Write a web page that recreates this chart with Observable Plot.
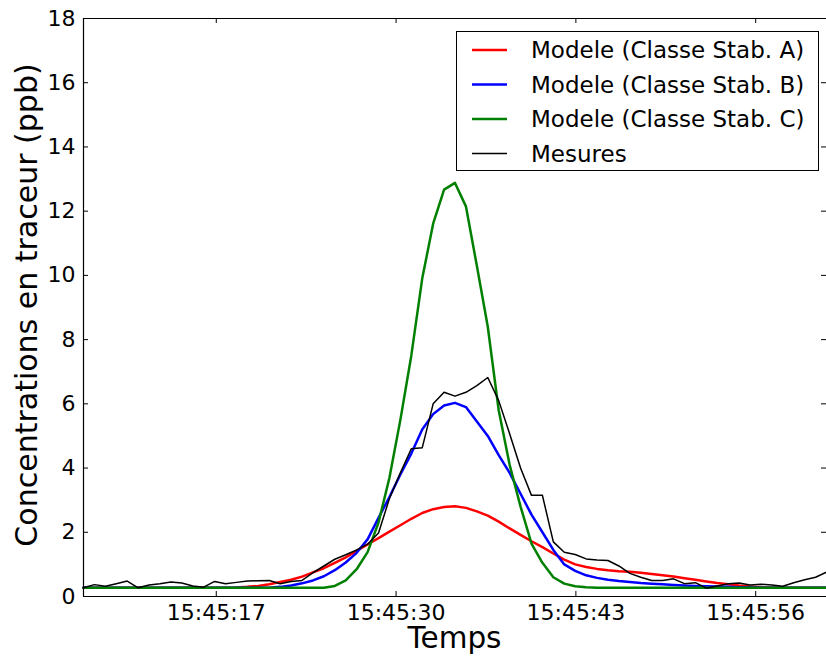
<!DOCTYPE html>
<html><head><meta charset="utf-8">
<script src="https://cdn.jsdelivr.net/npm/d3@7"></script>
<script src="https://cdn.jsdelivr.net/npm/@observablehq/plot@0.6"></script>
<style>body{margin:0;background:#fff}</style>
</head><body><div id="chart"></div>
<script>
// seconds after 15:45:00
const times = [7.40,8.19,8.98,9.77,10.56,11.35,12.14,12.93,13.72,14.51,15.30,16.09,16.88,17.67,18.46,19.25,20.04,20.83,21.62,22.41,23.20,23.99,24.78,25.57,26.36,27.15,27.94,28.73,29.52,30.31,31.10,31.89,32.68,33.47,34.26,35.05,35.84,36.63,37.42,38.21,39.00,39.79,40.58,41.37,42.16,42.95,43.74,44.53,45.32,46.11,46.90,47.69,48.48,49.27,50.06,50.85,51.64,52.43,53.22,54.01,54.80,55.59,56.38,57.17,57.96,58.75,59.54,60.33,61.12];

const modelA = [0.27,0.27,0.27,0.27,0.27,0.27,0.27,0.27,0.27,0.27,0.27,0.27,0.27,0.27,
  0.28,0.30,0.33,0.38,0.45,0.52,0.62,0.75,0.88,1.05,1.22,1.42,1.62,1.82,2.02,2.22,2.42,2.60,2.72,2.79,2.81,2.76,2.65,2.52,2.33,2.12,1.92,1.72,1.54,1.34,1.15,1.00,0.92,0.86,0.82,0.79,0.77,0.74,0.70,0.66,0.62,0.57,0.52,0.47,0.42,0.38,0.34,0.31,0.29,0.28,
  0.27,0.27,0.27,0.27,0.27];

const modelB = [0.27,0.27,0.27,0.27,0.27,0.27,0.27,0.27,0.27,0.27,0.27,0.27,0.27,0.27,0.27,0.27,0.27,0.27,
  0.30,0.34,0.41,0.50,0.63,0.82,1.06,1.36,1.78,2.45,3.10,3.80,4.45,5.20,5.68,5.95,6.03,5.90,5.45,5.00,4.40,3.85,3.20,2.55,2.00,1.45,1.00,0.80,0.66,0.58,0.52,0.48,0.45,0.42,0.40,0.38,0.36,0.34,0.33,0.32,0.31,0.30,0.29,0.28,
  0.27,0.27,0.27,0.27,0.27,0.27,0.27];

const modelC = [0.27,0.27,0.27,0.27,0.27,0.27,0.27,0.27,0.27,0.27,0.27,0.27,0.27,0.27,0.27,0.27,0.27,0.27,0.27,0.27,0.27,0.27,0.27,
  0.33,0.50,0.85,1.38,2.30,3.70,5.50,7.50,9.90,11.61,12.67,12.88,12.15,10.30,8.40,5.80,4.10,2.80,1.65,1.05,0.60,0.40,0.32,0.29,
  0.27,0.27,0.27,0.27,0.27,0.27,0.27,0.27,0.27,0.27,0.27,0.27,0.27,0.27,0.27,0.27,0.27,0.27,0.27,0.27,0.27,0.27];

const mesures = [0.27,0.37,0.32,0.40,0.48,0.27,0.36,0.40,0.45,0.42,0.33,0.29,0.47,0.40,0.44,0.48,0.49,0.50,0.40,0.47,0.50,
  0.74,0.95,1.16,1.30,1.45,1.63,1.98,3.05,3.85,4.60,4.63,6.00,6.36,6.24,6.36,6.57,6.82,6.10,5.07,4.00,3.15,3.15,1.70,1.38,1.31,1.17,1.14,1.12,0.95,0.72,0.60,0.50,0.50,0.55,0.40,0.43,0.26,0.33,0.40,0.42,0.36,0.38,0.36,0.32,0.43,0.52,0.60,0.76];

const xTickSeconds = [17, 30, 43, 56];
const yTicks = [0, 2, 4, 6, 8, 10, 12, 14, 16, 18];
const seriesNames = ["Modele (Classe Stab. A)", "Modele (Classe Stab. B)", "Modele (Classe Stab. C)", "Mesures"];
const seriesColors = ["#ff0000", "#0000ff", "#008000", "#000000"];
const seriesWidths = [2.5, 2.5, 2.5, 1.5];
const xLabel = "Temps";
const yLabel = "Concentrations en traceur (ppb)";

const toDate = s => new Date(Date.UTC(2000, 0, 1, 15, 45, 0) + Math.round(s * 1000));
const rows = vals => times.map((t, i) => ({t: toDate(t), v: vals[i]}));
const seriesVals = [modelA, modelB, modelC, mesures];
const xTickDates = xTickSeconds.map(toDate);

const W = 826, H = 658, mL = 83, mT = 18, mB = 62, mR = 0;
const fw = W - mL - mR, fh = H - mT - mB;

const plot = Plot.plot({
  width: W, height: H, marginLeft: mL, marginRight: mR, marginTop: mT, marginBottom: mB,
  style: {fontFamily: "'DejaVu Sans', sans-serif", fontSize: "22px", color: "#000", background: "#fff"},
  x: {type: "utc", domain: [toDate(times[0]), toDate(times[times.length - 1])]},
  y: {domain: [0, 18]},
  marks: [
    Plot.axisX({ticks: xTickDates, tickSize: 0, tickPadding: 8, tickFormat: d3.utcFormat("%H:%M:%S"), label: null, fontSize: 22}),
    Plot.axisY({ticks: yTicks, tickSize: 0, tickPadding: 8, label: null, fontSize: 22}),
    ...seriesVals.map((vals, i) => Plot.line(rows(vals), {x: "t", y: "v", stroke: seriesColors[i], strokeWidth: seriesWidths[i]})),
    Plot.ruleX(xTickDates, {x: d => d, stroke: "#000", strokeWidth: 1, insetTop: fh - 5}),
    Plot.ruleX(xTickDates, {x: d => d, stroke: "#000", strokeWidth: 1, insetBottom: fh - 5}),
    Plot.ruleY(yTicks, {y: d => d, stroke: "#000", strokeWidth: 1, insetRight: fw - 5}),
    Plot.ruleY(yTicks, {y: d => d, stroke: "#000", strokeWidth: 1, insetLeft: fw - 5}),
    Plot.ruleY([0, 18], {stroke: "#000", strokeWidth: 1.2}),
    Plot.ruleX([toDate(times[0])], {stroke: "#000", strokeWidth: 1.2})
  ]
});

const svg = d3.select(plot);
// axis titles
svg.append("text").attr("x", mL + fw / 2).attr("y", 648).attr("text-anchor", "middle")
  .attr("font-size", 29.5).attr("fill", "#000").text(xLabel);
svg.append("text").attr("transform", `translate(37,${mT + fh / 2 - 2}) rotate(-90)`).attr("text-anchor", "middle")
  .attr("font-size", 30).attr("fill", "#000").text(yLabel);
// legend
const lg = svg.append("g");
lg.append("rect").attr("x", 456.5).attr("y", 31.5).attr("width", 362).attr("height", 139)
  .attr("fill", "#fff").attr("stroke", "#000").attr("stroke-width", 1);
seriesNames.forEach((name, i) => {
  const yy = 50 + i * 34.5;
  lg.append("line").attr("x1", 472).attr("x2", 507).attr("y1", yy).attr("y2", yy)
    .attr("stroke", seriesColors[i]).attr("stroke-width", seriesWidths[i]);
  lg.append("text").attr("x", 531).attr("y", yy).attr("dy", "0.36em").attr("font-size", 23)
    .attr("text-anchor", "start").attr("fill", "#000").text(name);
});

document.getElementById("chart").appendChild(plot);
</script>
</body></html>
